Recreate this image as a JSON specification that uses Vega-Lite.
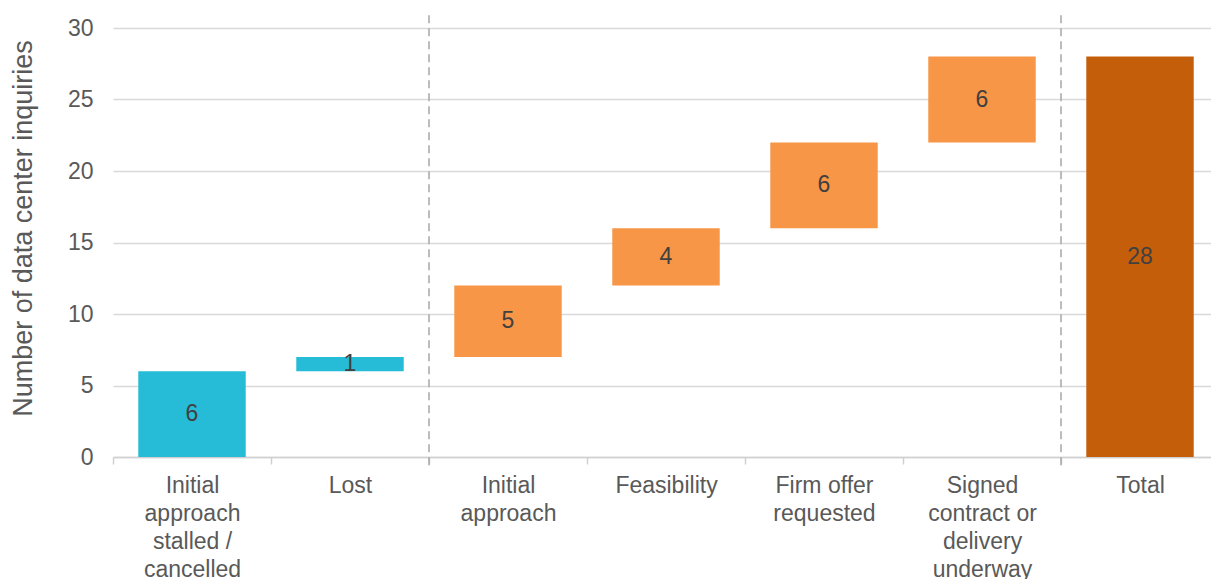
{
  "$schema": "https://vega.github.io/schema/vega-lite/v6.json",
  "autosize": {"type": "none"},
  "padding": {"left": 113, "top": 28, "right": 0, "bottom": 122},
  "width": 1098,
  "height": 429,
  "config": {
    "view": {"stroke": null},
    "font": "Liberation Sans",
    "axis": {"labelFont": "Liberation Sans", "titleFont": "Liberation Sans"}
  },
  "datasets": {
    "steps": [
      {"cat": "Initial approach stalled / cancelled", "start": 0, "end": 6, "value": 6, "group": "lost"},
      {"cat": "Lost", "start": 6, "end": 7, "value": 1, "group": "lost"},
      {"cat": "Initial approach", "start": 7, "end": 12, "value": 5, "group": "active"},
      {"cat": "Feasibility", "start": 12, "end": 16, "value": 4, "group": "active"},
      {"cat": "Firm offer requested", "start": 16, "end": 22, "value": 6, "group": "active"},
      {"cat": "Signed contract or delivery underway", "start": 22, "end": 28, "value": 6, "group": "active"},
      {"cat": "Total", "start": 0, "end": 28, "value": 28, "group": "total"}
    ],
    "separators": [
      {"cat": "Initial approach", "top": 30.9, "bottom": -0.7},
      {"cat": "Total", "top": 30.9, "bottom": -0.7}
    ]
  },
  "encoding": {
    "x": {
      "field": "cat",
      "type": "nominal",
      "sort": null,
      "scale": {
        "domain": ["Initial approach stalled / cancelled", "Lost", "Initial approach", "Feasibility", "Firm offer requested", "Signed contract or delivery underway", "Total"],
        "range": [0, 1106],
        "paddingInner": 0,
        "paddingOuter": 0
      },
      "axis": {
        "title": null,
        "labelAngle": 0,
        "labelFontSize": 23,
        "labelColor": "#595959",
        "labelLineHeight": 28,
        "labelPadding": 10,
        "labelBaseline": "top",
        "tickBand": "extent",
        "tickColor": "#d0d0d0",
        "tickSize": 7,
        "tickWidth": 1.5,
        "domainColor": "#d0d0d0",
        "domainWidth": 1.5,
        "labelExpr": "datum.value == 'Initial approach stalled / cancelled' ? ['Initial','approach','stalled /','cancelled'] : datum.value == 'Initial approach' ? ['Initial','approach'] : datum.value == 'Firm offer requested' ? ['Firm offer','requested'] : datum.value == 'Signed contract or delivery underway' ? ['Signed','contract or','delivery','underway'] : datum.value"
      }
    }
  },
  "layer": [
    {
      "data": {"name": "steps"},
      "mark": {"type": "bar", "width": {"band": 0.68}},
      "encoding": {
        "y": {
          "field": "start",
          "type": "quantitative",
          "scale": {"domain": [0, 30], "nice": false},
          "axis": {
            "title": "Number  of data center inquiries",
            "titleFontSize": 27,
            "titleFontWeight": "normal",
            "titleColor": "#595959",
            "titlePadding": 30,
            "titleY": 200,
            "labelFontSize": 23,
            "labelColor": "#595959",
            "labelPadding": 20,
            "values": [0, 5, 10, 15, 20, 25, 30],
            "domain": false,
            "ticks": false,
            "gridColor": "#d9d9d9",
            "gridWidth": 1.5
          }
        },
        "y2": {"field": "end"},
        "color": {
          "field": "group",
          "type": "nominal",
          "scale": {"domain": ["lost", "active", "total"], "range": ["#26bcd7", "#f79646", "#c55e0b"]},
          "legend": null
        }
      }
    },
    {
      "data": {"name": "steps"},
      "transform": [{"calculate": "(datum.start + datum.end) / 2", "as": "mid"}],
      "mark": {"type": "text", "fontSize": 23, "color": "#404040", "baseline": "middle", "align": "center"},
      "encoding": {
        "y": {"field": "mid", "type": "quantitative"},
        "text": {"field": "value", "type": "quantitative"}
      }
    },
    {
      "data": {"name": "separators"},
      "mark": {"type": "rule", "color": "#a6a6a6", "strokeWidth": 1.5, "strokeDash": [8, 5], "clip": false},
      "encoding": {
        "x": {"field": "cat", "type": "nominal", "bandPosition": 0},
        "y": {"field": "top", "type": "quantitative"},
        "y2": {"field": "bottom"}
      }
    }
  ]
}
